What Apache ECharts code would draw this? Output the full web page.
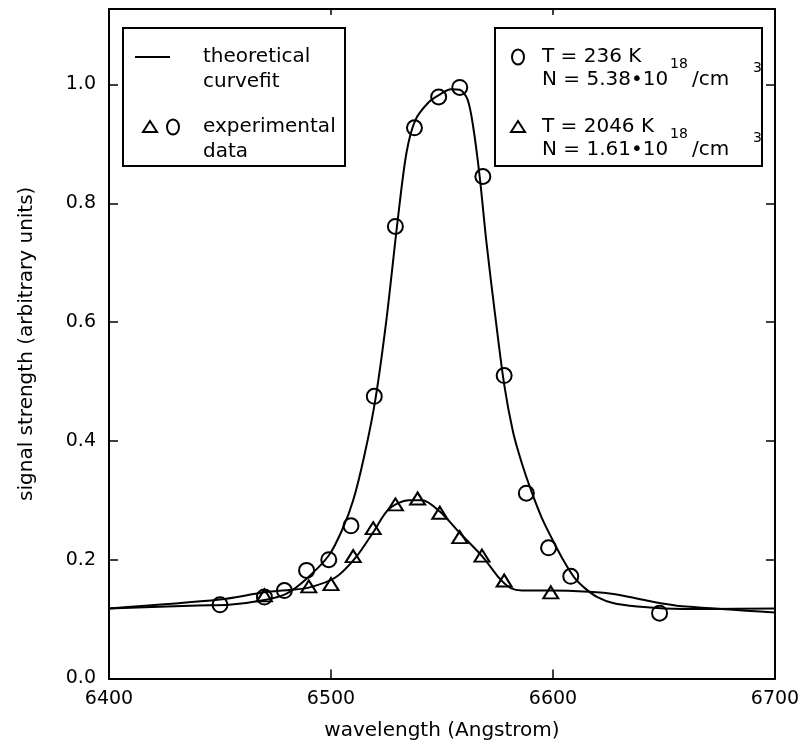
<!DOCTYPE html>
<html><head><meta charset="utf-8">
<script src="https://cdn.jsdelivr.net/npm/echarts@6/dist/echarts.min.js"></script>
<style>html,body{margin:0;padding:0;background:#fff}#c{width:811px;height:746px}</style>
</head><body><div id="c"></div>
<script>
// Axis ticks
const xTicks = [6400, 6500, 6600, 6700];
const yTicks = [0.0, 0.2, 0.4, 0.6, 0.8, 1.0];

// Theoretical curvefit, T = 236 K (tall peak)
const fit236X = [6400, 6440, 6454, 6470, 6480, 6489, 6499, 6505, 6510, 6515, 6520, 6525, 6530, 6534, 6538, 6544, 6549, 6554, 6558, 6561.5, 6564, 6567, 6570, 6574, 6578, 6582, 6586, 6590, 6595, 6600, 6605, 6610, 6615, 6620, 6627, 6638, 6650, 6670, 6700];
const fit236Y = [0.118, 0.123, 0.124, 0.132, 0.143, 0.168, 0.207, 0.250, 0.300, 0.375, 0.470, 0.605, 0.770, 0.885, 0.940, 0.970, 0.983, 0.992, 0.991, 0.975, 0.930, 0.844, 0.735, 0.610, 0.495, 0.415, 0.362, 0.318, 0.270, 0.232, 0.197, 0.168, 0.150, 0.137, 0.127, 0.121, 0.118, 0.117, 0.118];

// Theoretical curvefit, T = 2046 K (low peak)
const fit2046X = [6400, 6450, 6470, 6481, 6490, 6502, 6511, 6519, 6526, 6535, 6541, 6549, 6558, 6568.5, 6576, 6581, 6586, 6599, 6616, 6628, 6640, 6650, 6660, 6700];
const fit2046Y = [0.118, 0.133, 0.145, 0.149, 0.153, 0.170, 0.203, 0.246, 0.285, 0.300, 0.300, 0.281, 0.245, 0.204, 0.168, 0.152, 0.148, 0.148, 0.146, 0.142, 0.133, 0.126, 0.121, 0.111];

// Experimental data, T = 236 K (circles)
const data236X = [6450, 6470, 6479, 6489, 6499, 6509, 6519.5, 6529, 6537.6, 6548.5, 6558, 6568.4, 6578, 6588, 6598, 6608, 6648];
const data236Y = [0.124, 0.137, 0.148, 0.182, 0.200, 0.257, 0.475, 0.761, 0.927, 0.979, 0.995, 0.845, 0.510, 0.312, 0.220, 0.172, 0.110];

// Experimental data, T = 2046 K (triangles)
const data2046X = [6470, 6490, 6500, 6510, 6519, 6529, 6539, 6549, 6558, 6568, 6578, 6599];
const data2046Y = [0.140, 0.155, 0.159, 0.206, 0.253, 0.293, 0.303, 0.279, 0.238, 0.207, 0.165, 0.145];

const zip = (xs, ys) => xs.map((x, i) => [x, ys[i]]);
const FONT = '"DejaVu Sans", sans-serif';
const LF = 20;
const txt = (s, x, y, size) => ({ type: 'text', x: x, y: y, z: 101,
  style: { text: s, font: (size || LF) + 'px ' + FONT, fill: '#000', verticalAlign: 'middle', align: 'left' } });
const tri = (cx, cy) => ({ type: 'polygon', z: 101,
  shape: { points: [[cx, cy - 6], [cx + 7, cy + 5], [cx - 7, cy + 5]] },
  style: { fill: 'none', stroke: '#000', lineWidth: 2 } });
const ell = (cx, cy) => ({ type: 'ellipse', z: 101,
  shape: { cx: cx, cy: cy, rx: 6, ry: 7.5 },
  style: { fill: 'none', stroke: '#000', lineWidth: 2 } });

const chart = echarts.init(document.getElementById('c'), null, { renderer: 'canvas' });
const axisCommon = {
  type: 'value', splitLine: { show: false },
  axisLine: { show: true, onZero: false, lineStyle: { color: '#000', width: 2 } },
  axisTick: { show: true, inside: true, length: 9, lineStyle: { color: '#000', width: 1.5 } }
};
chart.setOption({
  backgroundColor: '#fff',
  animation: false,
  grid: { left: 109, right: 36, top: 9, bottom: 67.5 },
  xAxis: [
    Object.assign({}, axisCommon, {
      min: xTicks[0], max: xTicks[xTicks.length - 1], interval: 100, position: 'bottom',
      name: 'wavelength (Angstrom)', nameLocation: 'middle', nameGap: 42,
      nameTextStyle: { fontFamily: FONT, fontSize: 20, color: '#000' },
      axisLabel: { show: true, margin: 11, fontFamily: FONT, fontSize: 19, color: '#000',
        formatter: v => xTicks.indexOf(v) >= 0 ? String(v) : '' }
    }),
    Object.assign({}, axisCommon, {
      min: xTicks[0], max: xTicks[xTicks.length - 1], interval: 100, position: 'top',
      axisLabel: { show: false }, axisTick: { show: true, inside: true, length: 6, lineStyle: { color: '#000', width: 1.5 } }
    })
  ],
  yAxis: [
    Object.assign({}, axisCommon, {
      min: 0, max: 1.127, interval: 0.2, position: 'left',
      name: 'signal strength (arbitrary units)', nameLocation: 'middle', nameGap: 72,
      nameTextStyle: { fontFamily: FONT, fontSize: 20, color: '#000' },
      axisLabel: { show: true, margin: 13, fontFamily: FONT, fontSize: 19, color: '#000',
        formatter: v => { const t = yTicks.find(k => Math.abs(k - v) < 1e-6); return t === undefined ? '' : t.toFixed(1); } }
    }),
    Object.assign({}, axisCommon, {
      min: 0, max: 1.127, interval: 0.2, position: 'right', axisLabel: { show: false }
    })
  ],
  series: [
    { name: 'fit 236 K', type: 'line', data: zip(fit236X, fit236Y), smooth: 0.3, showSymbol: false,
      lineStyle: { color: '#000', width: 2 }, z: 3 },
    { name: 'fit 2046 K', type: 'line', data: zip(fit2046X, fit2046Y), smooth: 0.3, showSymbol: false,
      lineStyle: { color: '#000', width: 2 }, z: 3 },
    { name: 'T = 236 K', type: 'scatter', data: zip(data236X, data236Y), symbol: 'circle', symbolSize: 15,
      itemStyle: { color: 'rgba(0,0,0,0)', borderColor: '#000', borderWidth: 2, opacity: 1 }, z: 4 },
    { name: 'T = 2046 K', type: 'scatter', data: zip(data2046X, data2046Y), symbol: 'triangle', symbolSize: [15, 12],
      itemStyle: { color: 'rgba(0,0,0,0)', borderColor: '#000', borderWidth: 2, opacity: 1 }, z: 4 }
  ],
  graphic: [
    { type: 'rect', z: 100, shape: { x: 123, y: 28, width: 222, height: 138 },
      style: { fill: '#fff', stroke: '#000', lineWidth: 2 } },
    { type: 'line', z: 101, shape: { x1: 135, y1: 57, x2: 170, y2: 57 }, style: { stroke: '#000', lineWidth: 2 } },
    txt('theoretical', 203, 57), txt('curvefit', 203, 82),
    tri(150, 127), ell(173, 127),
    txt('experimental', 203, 127), txt('data', 203, 152),

    { type: 'rect', z: 100, shape: { x: 495, y: 28, width: 267, height: 138 },
      style: { fill: '#fff', stroke: '#000', lineWidth: 2 } },
    ell(518, 57), txt('T = 236 K', 542, 57),
    txt('N = 5.38•10', 542, 80), txt('18', 670, 64, 14), txt('/cm', 692, 80), txt('3', 753, 68, 14),
    tri(518, 127), txt('T = 2046 K', 542, 127),
    txt('N = 1.61•10', 542, 150), txt('18', 670, 134, 14), txt('/cm', 692, 150), txt('3', 753, 138, 14)
  ]
});
</script></body></html>
